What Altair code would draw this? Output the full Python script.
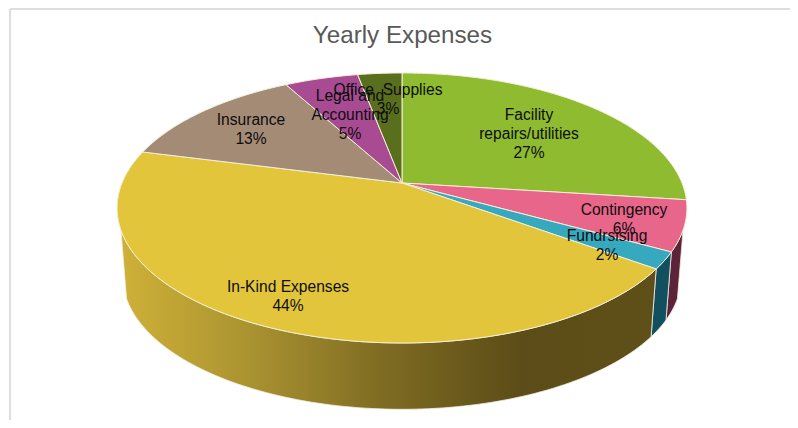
import math
import altair as alt
import pandas as pd

TITLE = "Yearly Expenses"
categories = ["Facility repairs/utilities", "Contingency", "Fundrsising",
              "In-Kind Expenses", "Insurance", "Legal and Accounting", "Office Supplies"]
percents = [27, 6, 2, 44, 13, 5, 3]
top_colors = ["#8ebb2f", "#e8668a", "#37a9bf", "#e2c53b", "#a48b75", "#a84b93", "#5a6f1e"]
wall_colors = ["#4f6a1a", "#5c2339", "#125060", None, "#5d4f42", "#5f2a53", "#333f11"]
label_lines = [
    ["Facility", "repairs/utilities", "27%"],
    ["Contingency", "6%"],
    ["Fundrsising", "2%"],
    ["In-Kind Expenses", "44%"],
    ["Insurance", "13%"],
    ["Legal and", "Accounting", "5%"],
    ["Office\u00a0\u00a0Supplies", "3%"],
]
# label centres and first row in page pixels
label_page = [(529, 115), (624, 210), (607, 236), (288, 287), (251, 120), (350, 96), (388, 90)]

# page layout
PAGE_L, PAGE_T = 10, 9
W, H = 780, 411
PX = 280.0            # pixels per unit of pie radius
APEX_X, APEX_Y = 402.0, 183.0
TILT_C = 0.185        # perspective
TILT_A = 130.4 / PX   # squash
DEPTH = 69.0 / PX     # drop of the lower rim
SHRINK = 0.98
ELL_Y = (208.0 - APEX_Y) / PX
WALL_FROM, WALL_TO = 30.5, 69.5   # the rim's silhouette points, in percent round the pie


def top_pt(share):
    th = math.radians(90 - 3.6 * share)
    den = 1 + TILT_C * math.sin(th)
    return math.cos(th) / den, TILT_A * math.sin(th) / den


def low_pt(share):
    x, y = top_pt(share)
    return SHRINK * x, SHRINK * (y + ELL_Y) - ELL_Y - DEPTH


def arc(a, b, fn):
    n = max(2, int(abs(b - a) * 3))
    return [fn(a + (b - a) * i / n) for i in range(n + 1)]


xs = alt.Scale(domain=[(PAGE_L - APEX_X) / PX, (PAGE_L + W - APEX_X) / PX], nice=False, zero=False)
ys = alt.Scale(domain=[(APEX_Y - (PAGE_T + H)) / PX, (APEX_Y - PAGE_T) / PX], nice=False, zero=False)


def poly(points, fill, stroke, sw):
    df = pd.DataFrame([{"x": p[0], "y": p[1], "i": i} for i, p in enumerate(points + points[:1])])
    return alt.Chart(df).mark_line(fill=fill, stroke=stroke, strokeWidth=sw, strokeJoin="round",
                                   clip=False).encode(
        x=alt.X("x:Q", scale=xs, axis=None),
        y=alt.Y("y:Q", scale=ys, axis=None),
        order=alt.Order("i:Q"),
    )


gold_wall = alt.Gradient(
    gradient="linear", x1=0, x2=1, y1=0, y2=0,
    stops=[alt.GradientStop(offset=0.0, color="#cfb138"),
           alt.GradientStop(offset=0.25, color="#a89130"),
           alt.GradientStop(offset=0.5, color="#7d6a22"),
           alt.GradientStop(offset=0.75, color="#5c4c17"),
           alt.GradientStop(offset=1.0, color="#5f4f18")],
)

edges = [0.0]
for p in percents:
    edges.append(edges[-1] + p)

layers = []
# chart-area frame: top and left edges only
blank = alt.Chart(pd.DataFrame({"k": [0]}))
layers.append(blank.mark_rule(color="#dedede", strokeWidth=2.2).encode(
    x=alt.value(0), x2=alt.value(W), y=alt.value(0)))
layers.append(blank.mark_rule(color="#dedede", strokeWidth=2.2).encode(
    x=alt.value(0), y=alt.value(0), y2=alt.value(H)))

for i in (1, 2, 3):
    a, b = max(edges[i], WALL_FROM), min(edges[i + 1], WALL_TO)
    pts = arc(a, b, top_pt) + arc(b, a, low_pt)
    layers.append(poly(pts, wall_colors[i] or gold_wall, "#f2efe2", 0.8))
for i in range(len(percents)):
    a, b = edges[i], edges[i + 1]
    pts = [(0.0, 0.0)] + arc(a, b, top_pt)
    layers.append(poly(pts, top_colors[i], "#f3efd8", 1.0))

for lines, (px, py) in zip(label_lines, label_page):
    layers.append(
        alt.Chart(pd.DataFrame({"t": [lines]})).mark_text(
            font="Liberation Sans", fontSize=15.6, color="#0d0d0d", align="center",
            baseline="middle", lineHeight=18.8,
        ).encode(text="t:N", x=alt.value(px - PAGE_L), y=alt.value(py - PAGE_T))
    )

chart = alt.layer(*layers).properties(
    width=W, height=H,
    padding={"left": 2, "top": 1, "right": 0, "bottom": 0},
    autosize=alt.AutoSizeParams(type="none"),
    title=alt.TitleParams(TITLE, font="Liberation Sans", fontSize=24.2, fontWeight="normal",
                          color="#595959", anchor="middle", offset=-40, dx=2.5),
).configure_view(stroke="transparent").configure_title(limit=0)

chart.save("out.html", embed_options={"renderer": "svg", "actions": False})
